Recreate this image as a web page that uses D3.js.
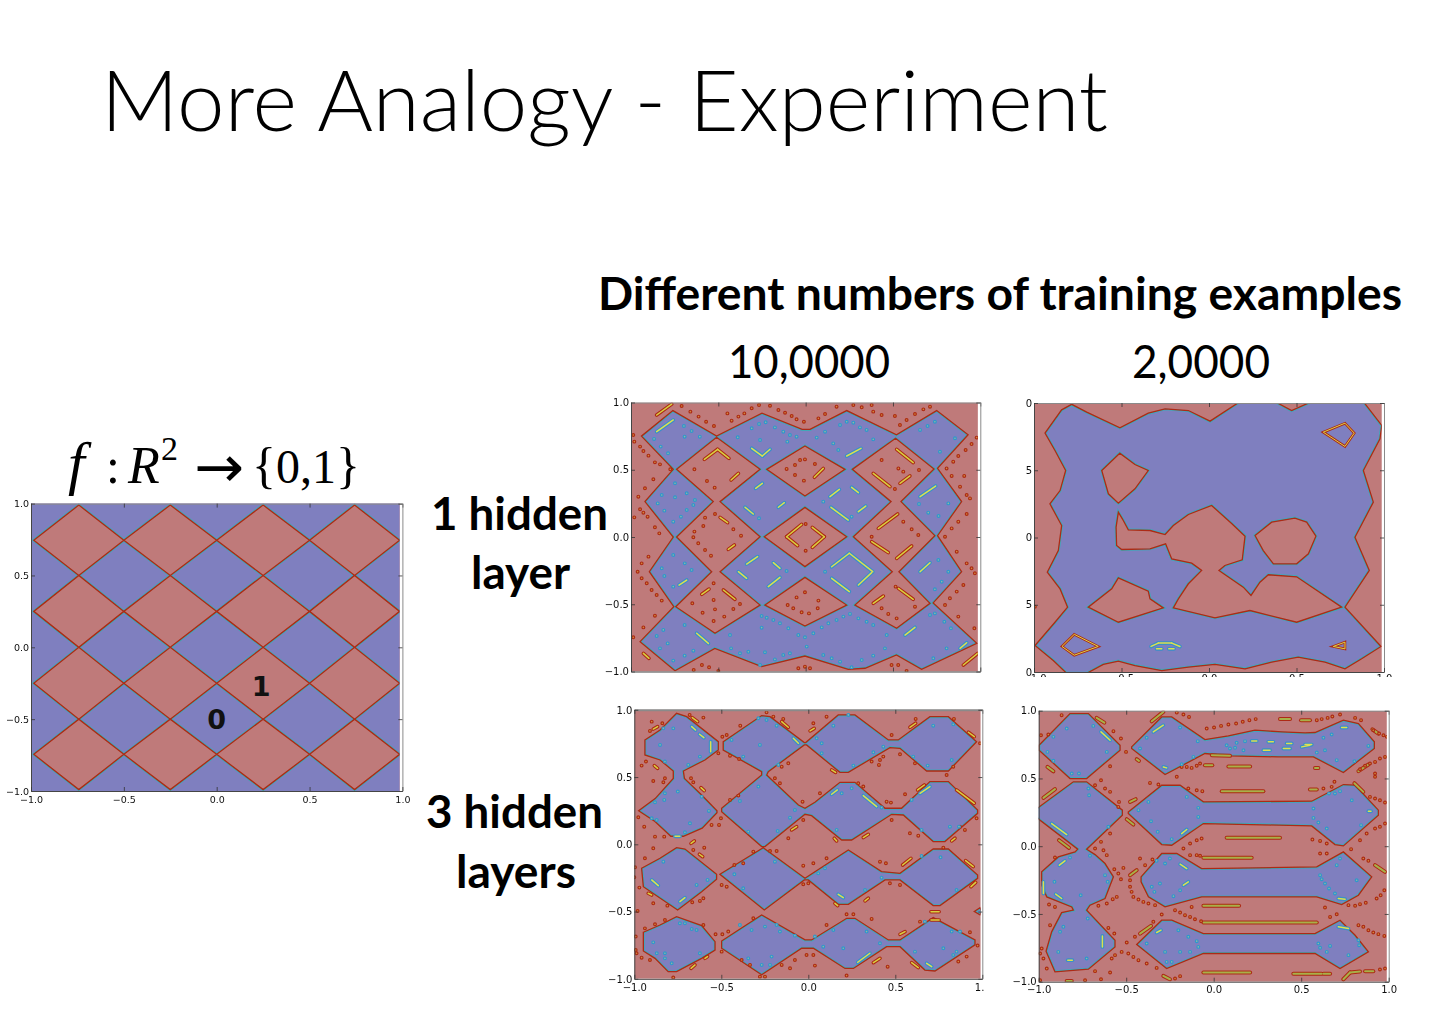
<!DOCTYPE html>
<html><head><meta charset="utf-8">
<script src="https://cdn.jsdelivr.net/npm/d3@7"></script>
<style>html,body{margin:0;background:#fff}svg{display:block}</style>
</head><body><svg id="c" width="1435" height="1016"></svg>
<script>
const tickValues=[-1,-0.5,0,0.5,1];
const panelCYLabels=["0","5","0","5","0"];
const gridXEdges=[-0.985,-0.5,0,0.5,0.985];
const gridYEdges=[0.99,0.5,0,-0.5,-0.99];
const frame=[[-1.03,-1.03],[-1.03,1.03],[1.03,1.03],[1.03,-1.03]];

const panelBBlue=[
[[-.94,.75],[-.76,.94],[-.51,.75],[-.25,.92],[-.02,.80],[.025,.80],[.235,.94],[.52,.76],[.75,.94],[.93,.76],[.755,.51],[.893,.263],[.755,.01],[.893,-.258],[.73,-.49],[.98,-.79],[.664,-.984],[.52,-.877],[.34,-.976],[.244,-.984],[-.004,-.885],[-.252,-.964],[-.52,-.828],[-.748,-.994],[-.948,-.778],[-.755,-.518],[-.895,-.258],[-.758,0],[-.92,.263],[-.758,.503]],
[[-.739,.503],[-.51,.741],[-.261,.503],[-.49,.263],[-.261,.002],[-.49,-.258],[-.261,-.506],[-.519,-.716],[-.744,-.518],[-.538,-.258],[-.739,0],[-.529,.263]],
[[-.223,.503],[-.004,.677],[.225,.503],[-.004,.305]],
[[-.237,.002],[-.004,.22],[.235,.002],[-.004,-.22]],
[[-.233,-.506],[-.004,-.3],[.235,-.506],[-.004,-.662]],
[[.267,.503],[.515,.734],[.735,.505],[.546,.263],[.74,.01],[.534,-.258],[.712,-.493],[.521,-.679],[.282,-.506],[.496,-.258],[.273,.002],[.489,.263]]
];
const panelBSegsRed=[[-.853,.907,-.767,.988],[-.58,.577,-.504,.652],[-.504,.652,-.439,.585],[-.427,.424,-.385,.473],[.05,.444,.101,.51],[.521,.652,.616,.553],[.387,.473,.483,.374],[.54,.399,.597,.454],[.416,.064,.527,.171],[-.109,.002,-.046,-.064],[-.109,.002,-.023,.094],[.038,.072,.107,.002],[.107,.002,.038,-.077],[.378,-.035,.473,-.116],[.521,-.159,.607,-.067],[-.595,-.426,-.553,-.387],[-.471,-.394,-.405,-.463],[.531,-.382,.616,-.463],[.387,-.493,.445,-.439],[.903,-.952,.985,-.865],[-.443,-.092,-.408,-.059],[-.49,.146,-.447,.107],[-.929,-.865,-.897,-.902]];
const panelBSegsBlue=[[-.853,.783,-.758,.87],[-.309,.659,-.248,.602],[-.248,.602,-.204,.652],[.235,.602,.317,.659],[-.286,.362,-.248,.399],[-.156,.221,-.122,.255],[-.347,.221,-.3,.171],[.139,.3,.193,.354],[.263,.369,.302,.33],[.145,.221,.244,.126],[.302,.188,.344,.23],[.655,.3,.744,.379],[-.338,-.201,-.275,-.146],[-.185,-.191,-.147,-.233],[-.385,-.258,-.338,-.307],[-.214,-.369,-.147,-.3],[.149,-.221,.25,-.121],[.25,-.121,.384,-.258],[.149,-.307,.25,-.406],[.302,-.357,.378,-.265],[.655,-.258,.712,-.191],[-.725,-.357,-.681,-.32],[-.624,-.716,-.557,-.791],[.569,-.729,.626,-.672],[.884,-.828,.922,-.786]];
const panelBDotsRed=[[-.71,.974],[-.66,.932],[-.613,.895],[-.57,.857],[-.525,.825],[-.448,.919],[-.424,.865],[-.385,.895],[-.351,.919],[-.309,.957],[-.267,.981],[-.204,.976],[-.156,.944],[-.118,.924],[-.08,.9],[-.052,.875],[-.01,.857],[.073,.882],[.111,.914],[.177,.969],[.273,.981],[.321,.964],[.378,.981],[.387,.932],[.435,.907],[.511,.9],[.54,.833],[.578,.87],[.626,.914],[.674,.949],[.712,.969],
[-.987,.758],[-.981,.709],[-.948,.672],[-.929,.639],[-.9,.605],[-.863,.555],[-.834,.54],[-.775,.503],[-.872,.429],[-.92,.362],[-.958,.3],[-.948,.206],[-.981,.146],[-.929,.181],[-.905,.151],[-.863,.072],[-.838,.027],[-.9,-.146],[-.939,-.196],[-.962,-.258],[-.939,-.307],[-.91,-.344],[-.882,-.394],[-.853,-.431],[-.824,-.473],[-.863,-.585],[-.929,-.672],[-.987,-.746],
[.979,.739],[.95,.691],[.916,.647],[.874,.602],[.845,.56],[.807,.51],[.836,.454],[.908,.454],[.884,.374],[.922,.312],[.941,.287],[.922,.171],[.874,.114],[.836,.064],[.798,.002],[.865,-.109],[.922,-.196],[.95,-.233],[.969,-.27],[.903,-.357],[.865,-.406],[.826,-.456],[.798,-.506],[.874,-.592],[.966,-.679],
[-.637,.503],[-.565,.416],[-.521,.367],[-.519,.171],[-.576,.144],[-.586,.082],[-.637,.04],[-.643,-.002],[-.615,-.047],[-.576,-.097],[-.542,-.139],[-.414,.057],[-.37,.01],[-.527,-.344],[-.527,-.468],[-.649,-.493],[-.59,-.563],[-.519,-.538],[-.527,-.625],[-.466,-.592],[-.414,-.535],[-.376,-.498],
[-.109,.506],[-.061,.535],[-.032,.572],[-.004,.577],[.053,.543],[-.061,.461],[-.01,.419],[0,.097],[0,-.102],[-.052,-.449],[-.004,-.411],[.073,-.473],[-.103,-.506],[-.071,-.53],[-.023,-.56],[.019,-.568],[.069,-.53],
[.435,.572],[.531,.51],[.559,.486],[.649,.498],[.511,.357],[.559,.114],[.607,.057],[.645,.015],[.378,.002],[.515,-.369],[.473,-.572],[.435,-.53],[.521,-.605],[.626,-.518],
[-.641,-.989],[-.594,-.952],[-.553,-.969],[-.5,-.996],[-.042,-.976],[-.004,-.964],[.025,-.976],[.492,-.952],[.53,-.952],[.578,-.996]];
const panelBDotsBlue=[[-.868,.729],[-.83,.672],[-.788,.622],[-.697,.825],[-.653,.788],[-.693,.746],[-.606,.746],[-.389,.741],[-.309,.808],[-.267,.84],[-.229,.853],[-.176,.815],[-.128,.783],[-.09,.758],[-.052,.746],[-.261,.721],[-.105,.709],[.063,.739],[.111,.783],[.158,.696],[.187,.647],[.197,.833],[.235,.857],[.273,.85],[.311,.815],[.349,.796],[.387,.726],[.655,.796],[.698,.825],[.74,.857],[.855,.734],[.769,.634],[-.748,.399],[-.824,.312],[-.748,.295],[-.681,.325],[-.634,.275],[-.643,.238],[-.681,.201],[-.714,.151],[-.758,.114],[-.809,.196],[-.847,.25],[-.267,.139],[.101,.263],[.263,.151],[.649,.245],[.702,.181],[.761,.156],[.817,.25],[-.758,-.134],[-.692,-.196],[-.653,-.245],[-.824,-.233],[-.809,-.29],[-.758,-.369],[-.109,-.253],[.111,-.258],[.76,-.171],[.817,-.258],[.779,-.332],[.74,-.389],[.712,-.58],[.74,-.568],[.794,-.63],[.832,-.679],[-.252,-.587],[-.223,-.6],[-.185,-.617],[-.147,-.642],[-.099,-.679],[-.042,-.729],[-.004,-.746],[.044,-.716],[.092,-.672],[.13,-.642],[.177,-.617],[.216,-.592],[.254,-.572],[.302,-.605],[.349,-.63],[.387,-.654],[.464,-.729],[-.252,-.674],[-.693,-.654],[-.815,-.691],[-.853,-.736],[-.834,-.828],[-.79,-.791],[-.758,-.919],[-.693,-.882],[-.643,-.845],[-.433,-.729],[-.427,-.828],[-.376,-.865],[-.328,-.853],[-.261,-.952],[-.233,-.857],[-.176,-.91],[-.128,-.877],[-.09,-.865],[.006,-.815],[.101,-.877],[.149,-.902],[.197,-.927],[.263,-.969],[.321,-.915],[.387,-.882],[.454,-.828],[.731,-.902],[.807,-.828]];

const panelCBlue=[
[[-.785,.99],[-.842,.949],[-.937,.776],[-.88,.647],[-.819,.498],[-.851,.349],[-.909,.25],[-.842,.089],[-.861,-.097],[-.924,-.258],[-.851,-.382],[-.808,-.518],[-.88,-.63],[-.994,-.803],[-.89,-.914],[-.813,-1.01],[-.699,-1.01],[-.604,-.944],[-.518,-.919],[-.423,-.952],[-.27,-.989],[-.118,-.964],[.034,-.944],[.206,-.976],[.358,-.927],[.51,-.89],[.663,-.927],[.777,-.976],[.872,-.902],[.983,-.81],[.777,-.518],[.916,-.245],[.834,.002],[.939,.263],[.882,.498],[.977,.734],[.987,.833],[.882,1.01],[.587,1.01],[.472,.944],[.377,1.01],[.177,1.01],[.006,.865],[-.118,.944],[-.251,.957],[-.347,.924],[-.509,.815],[-.699,.932]],
[[-.51,.627],[-.613,.498],[-.575,.325],[-.518,.255],[-.423,.362],[-.347,.498],[-.423,.543]],
[[-.518,.188],[-.531,.077],[-.528,-.059],[-.499,-.089],[-.337,-.084],[-.248,-.047],[-.213,-.159],[-.099,-.191],[-.042,-.245],[-.118,-.344],[-.175,-.456],[-.204,-.523],[.034,-.597],[.234,-.543],[.501,-.63],[.758,-.518],[.501,-.292],[.339,-.277],[.291,-.332],[.24,-.431],[.196,-.369],[.057,-.245],[.091,-.208],[.19,-.166],[.206,.01],[.131,.102],[.015,.238],[-.118,.171],[-.204,.089],[-.251,.022],[-.337,.052],[-.461,.057],[-.495,.139]],
[[.263,.015],[.358,.114],[.491,.144],[.558,.114],[.611,.01],[.568,-.121],[.501,-.196],[.368,-.196],[.31,-.097]],
[[-.518,-.3],[-.347,-.399],[-.337,-.456],[-.261,-.523],[-.518,-.63],[-.69,-.518],[-.556,-.382]]
];
const panelCRings=[[[.653,.783],[.777,.85],[.83,.776],[.777,.677]],[[-.77,-.72],[-.633,-.81],[-.77,-.875],[-.84,-.81]],[[.71,-.81],[.777,-.778],[.777,-.828]]];
const panelCSegsBlue=[[-.331,-.81,-.29,-.785],[-.29,-.785,-.213,-.785],[-.213,-.785,-.166,-.81],[-.3,-.828,-.27,-.828],[-.23,-.828,-.2,-.828]];
const panelCDotsRed=[[-.995,-.515]];

const panelDBlue=[
[[-.939,.776],[-.852,.85],[-.757,.974],[-.699,.949],[-.517,.763],[-.517,.701],[-.594,.627],[-.718,.545],[-.712,.49],[-.613,.367],[-.525,.25],[-.525,.235],[-.61,.12],[-.718,.06],[-.79,.06],[-.881,.169],[-.975,.25],[-.88,.34],[-.776,.49],[-.776,.545],[-.852,.627],[-.939,.664]],
[[-.958,-.178],[-.852,-.104],[-.757,-.025],[-.709,-.035],[-.527,-.223],[-.527,-.26],[-.613,-.352],[-.751,-.488],[-.948,-.315]],
[[-.948,-.654],[-.852,-.6],[-.757,-.538],[-.613,-.605],[-.536,-.724],[-.536,-.786],[-.613,-.848],[-.757,-.947],[-.805,-.947],[-.881,-.848],[-.948,-.793]],
[[-.489,.763],[-.268,.957],[-.22,.949],[-.023,.756],[-.015,.756],[.172,.962],[.268,.962],[.46,.776],[.517,.776],[.699,.949],[.805,.949],[.967,.763],[.805,.545],[.68,.545],[.527,.714],[.469,.719],[.23,.535],[.182,.535],[-.01,.739],[-.023,.739],[-.23,.54],[-.239,.515],[-.057,.292],[-.019,.268],[.038,.312],[.182,.461],[.268,.461],[.441,.268],[.536,.268],[.699,.466],[.805,.466],[.973,.255],[.973,.23],[.785,.02],[.718,.02],[.546,.218],[.479,.223],[.249,.032],[.192,.032],[.019,.213],[-.019,.223],[-.249,-.017],[-.268,-.017],[-.498,.243],[-.498,.268],[-.268,.515],[-.268,.54],[-.489,.701]],
[[-.508,-.223],[-.259,-.025],[-.019,-.253],[.23,-.042],[.421,-.203],[.527,-.216],[.718,-.035],[.805,-.035],[.973,-.228],[.973,-.253],[.757,-.456],[.718,-.456],[.527,-.265],[.441,-.265],[.23,-.446],[.172,-.446],[0,-.265],[-.023,-.265],[-.253,-.488]],
[[-.498,-.719],[-.268,-.525],[-.019,-.711],[.019,-.711],[.221,-.55],[.268,-.55],[.46,-.711],[.527,-.711],[.718,-.545],[.958,-.711],[.958,-.748],[.728,-.942],[.67,-.935],[.527,-.761],[.45,-.761],[.259,-.923],[.211,-.923],[.029,-.773],[-.038,-.773],[-.268,-.97],[-.498,-.773]],
[[.954,-.5],[.987,-.471],[.996,-.5],[.987,-.525]]
];
const panelDSegsRed=[[-.891,.857,-.866,.875],[-.667,.942,-.636,.912],[-.153,.912,-.115,.87],[.01,.843,.034,.862],[.584,.87,.617,.9],[.92,.833,.954,.8],[-.885,.585,-.866,.565],[.134,.553,.157,.535],[-.617,.421,-.598,.399],[.628,.404,.667,.441],[.852,.404,.954,.305],[-.096,.107,-.067,.131],[.316,.05,.345,.074],[.149,.045,.163,.025],[.824,.025,.843,.045],[-.674,.007,-.655,.025],[-.626,-.074,-.607,-.092],[.542,-.154,.59,-.104],[.904,-.121,.948,-.166],[.935,-.315,.962,-.283],[-.92,-.364,-.9,-.377],[.153,-.439,.169,-.456],[.326,-.421,.345,-.401],[.705,-.501,.752,-.501],[.705,-.563,.752,-.563],[.527,-.669,.556,-.649],[.374,-.88,.412,-.848],[.594,-.88,.632,-.917],[-.674,-.922,-.651,-.897],[-.594,-.848,-.579,-.835]];
const panelDSegsBlue=[[-.561,.763,-.561,.689],[-.766,.059,-.738,.059],[-.67,.875,-.648,.85],[-.625,.818,-.6,.793],[-.086,.788,-.057,.751],[.134,.372,.167,.404],[.316,.362,.393,.28],[.642,.379,.699,.429],[-.738,-.426,-.709,-.397],[.172,-.372,.201,-.397],[.284,-.877,.354,-.81],[.68,-.885,.709,-.91],[-.9,-.265,-.862,-.307]];
const panelDDotsRed=[[-.9,.912],[-.91,.843],[-.839,.9],[-.682,.962],[-.603,.942],[-.24,.981],[-.201,.949],[-.144,.932],[-.391,.882],[-.469,.813],[-.494,.8],[.029,.9],[.105,.949],[.617,.932],[.837,.932],[.479,.813],[-.45,.659],[-.398,.634],[-.517,.677],[-.933,.615],[-.958,.585],[-.824,.491],[-.833,.461],[-.891,.471],[-.674,.491],[-.661,.461],[-.45,.33],[-.402,.362],[-.115,.602],[-.153,.577],[-.192,.491],[-.163,.454],[-.033,.317],[.067,.379],[.287,.454],[.316,.429],[.364,.615],[.412,.627],[.431,.652],[.406,.59],[.527,.669],[.613,.602],[.833,.577],[.795,.515],[.556,.372],[.45,.317],[.475,.31],[.479,.181],[.584,.082],[.632,.064],[-.029,.181],[-.115,.045],[-.977,.201],[-.943,.131],[-.881,.057],[-.828,.057],[-.891,-.03],[-.598,-.025],[-.661,-.042],[-.556,.144],[-.513,.144],[-.502,.193],[-.939,-.104],[-.996,-.171],[-1,-.245],[-.971,-.322],[-.891,-.439],[-.81,-.456],[-.981,-.496],[-.667,-.431],[-.623,-.421],[-.603,-.401],[-.498,-.302],[-.469,-.315],[-.425,-.154],[-.374,-.141],[-.316,-.055],[-.22,-.05],[-.182,-.05],[-.029,-.159],[.029,-.141],[-.029,-.297],[0,-.29],[.105,-.104],[.412,-.129],[.446,-.141],[.469,-.29],[.527,-.302],[.22,-.52],[.259,-.52],[.105,-.6],[.364,-.555],[.642,-.575],[-.603,-.6],[-.533,-.669],[-.494,-.669],[-.46,-.649],[-.316,-.55],[-.939,-.625],[-.881,-.595],[-.824,-.563],[-.91,-.86],[-.958,-.843],[-.987,-.81],[-.498,-.798],[-.383,-.86],[-.335,-.897],[-.153,-.897],[-.105,-.922],[-.077,-.86],[-.01,-.823],[.029,-.823],[.038,-.902],[.22,-.976],[.456,-.91],[-.278,-.984],[-.249,-.984],[-.776,-.991],[.862,-.872],[.91,-.835],[.929,-.654],[.973,-.753],[.987,.751],[.967,.193],[.9,.107],[.872,.131],[.776,-.025],[-.992,-.686],[-.992,-.786]];
const panelDDotsBlue=[[-.852,.739],[-.833,.862],[-.776,.862],[-.824,.615],[-.69,.59],[-.623,.652],[-.75,.392],[-.824,.379],[-.828,.33],[-.881,.312],[-.613,.354],[-.571,.248],[-.9,.193],[-.871,.181],[-.68,.156],[-.709,.089],[-.833,-.129],[-.579,-.265],[-.642,-.302],[-.425,-.223],[-.374,-.327],[-.287,.429],[-.393,.322],[-.345,.094],[-.176,.099],[-.077,.255],[-.105,.198],[-.287,.937],[-.24,.924],[-.182,.882],[-.441,.776],[-.278,.739],[-.374,.652],[-.172,.59],[.048,.788],[.077,.751],[.077,.677],[.144,.882],[.23,.962],[.259,.585],[.431,.726],[.374,.684],[.718,.882],[.833,.892],[.603,.652],[.686,.585],[.824,.627],[.249,.416],[.192,.379],[.163,.107],[.421,.273],[.594,.33],[.651,.107],[.814,.131],[.866,.131],[-.192,-.129],[.096,-.178],[.057,-.216],[.326,-.34],[.421,-.248],[.651,-.087],[.76,-.097],[.852,-.34],[-.891,-.729],[-.871,-.81],[-.824,-.81],[-.824,-.848],[-.785,-.885],[-.623,-.81],[-.738,-.587],[-.709,-.587],[-.67,-.63],[-.642,-.637],[-.393,-.6],[-.326,-.637],[-.249,-.612],[-.182,-.6],[-.163,-.649],[-.077,-.679],[-.345,-.848],[-.268,-.897],[-.22,-.897],[-.211,-.835],[.038,-.686],[.086,-.761],[.201,-.773],[.144,-.637],[.335,-.649],[.412,-.736],[.67,-.575],[.824,-.649],[.872,-.649],[.852,-.798],[.776,-.773],[.833,-.823],[.613,-.798]];

const panelEBlue=[
[[-.998,.745],[-.821,.979],[-.716,.979],[-.535,.745],[-.535,.709],[-.726,.499],[-.821,.499],[-.998,.709]],
[[-1.01,.278],[-.802,.475],[-.726,.475],[-.522,.266],[-.522,.229],[-.726,-.022],[-.678,-.062],[-.621,-.128],[-.573,-.226],[-.621,-.386],[-.707,-.435],[-.726,-.472],[-.564,-.694],[-.564,-.743],[-.716,-.908],[-.907,-.927],[-.958,-.775],[-.926,-.632],[-.869,-.49],[-.802,-.472],[-.811,-.448],[-.954,-.374],[-.983,-.288],[-.983,-.189],[-.888,-.079],[-.792,-.042],[-.777,-.022],[-1.01,.209]],
[[-.469,.733],[-.297,.954],[-.24,.954],[-.05,.787],[.084,.814],[.236,.856],[.389,.844],[.522,.836],[.579,.839],[.741,.93],[.827,.905],[.918,.77],[.918,.721],[.741,.544],[.57,.659],[.37,.659],[.093,.667],[-.05,.684],[-.278,.529],[-.469,.721]],
[[-.488,.253],[-.297,.45],[-.192,.45],[-.059,.327],[.56,.332],[.741,.455],[.808,.45],[.941,.266],[.941,.229],[.741,.002],[.693,.012],[.56,.15],[-.059,.167],[-.24,.007],[-.297,.012],[-.488,.241]],
[[-.415,-.226],[-.297,-.054],[-.211,-.054],[-.069,-.165],[.589,-.153],[.741,-.042],[.903,-.226],[.827,-.362],[.731,-.431],[.589,-.374],[-.069,-.374],[-.278,-.448],[-.373,-.374],[-.415,-.263]],
[[-.44,-.726],[-.297,-.546],[-.24,-.546],[-.059,-.645],[.579,-.645],[.722,-.546],[.808,-.657],[.884,-.78],[.722,-.903],[.579,-.792],[-.059,-.792],[-.269,-.903]]
];
const panelESegsRed=[[-.669,.947,-.625,.912],[-.354,.922,-.288,.991],[.379,.938,.436,.938],[.499,.93,.55,.93],[-.05,.598,-.008,.598],[.084,.588,.208,.588],[-.011,.672,.093,.667],[.046,.406,.284,.406],[.55,.418,.589,.418],[.074,.062,.379,.062],[-.059,-.086,.217,-.086],[-.059,-.44,.145,-.44],[-.059,-.563,.589,-.563],[-.059,-.932,.208,-.932],[.455,-.942,.617,-.942],[.627,-.942,.665,-.942],[.741,-.982,.779,-.932],[.779,-.932,.836,-.925],[.865,-.923,.912,-.923],[-.973,.357,-.907,.421],[-.884,.044,-.827,-.012],[-.95,.585,-.916,.553],[-.478,.327,-.446,.347],[-.497,.199,-.459,.16],[-.478,-.214,-.44,-.177],[-.421,-.645,-.358,-.588],[.804,.465,.855,.401],[.907,.863,.941,.831],[.827,.554,.884,.603],[.922,-.14,.979,-.189],[-.288,-.957,-.25,-.982],[-.84,-.995,-.811,-.995],[.579,.578,.598,.578],[-.44,.642,-.427,.63]];
const panelESegsBlue=[[-.644,.844,-.592,.782],[-.345,.844,-.288,.893],[-.288,.585,-.269,.578],[-.926,.167,-.84,.086],[-.882,-.14,-.85,-.108],[-.973,-.263,-.973,-.349],[-.903,-.354,-.869,-.386],[-.636,-.662,-.636,-.743],[-.834,-.841,-.808,-.841],[-.183,.093,-.154,.123],[-.192,-.133,-.154,-.165],[-.173,-.288,-.145,-.263],[-.326,-.637,-.301,-.62],[.712,-.595,.77,-.608],[.712,-.386,.751,-.391],[.731,.876,.76,.876],[.884,.258,.899,.258],[.284,.708,.322,.708],[.398,.721,.436,.721],[.503,.733,.55,.745],[.522,.75,.56,.75],[.417,.758,.446,.758],[.312,.77,.341,.77],[.217,.777,.246,.777]];
const panelEDotsRed=[[-.869,.967],[-.945,.824],[-.987,.819],[-.573,.849],[-.53,.795],[-.592,.59],[-.501,.696],[-.211,.986],[-.173,.972],[-.141,.954],[-.04,.868],[.002,.876],[.042,.888],[.084,.898],[.128,.905],[.166,.918],[.204,.93],[.24,.938],[.589,.93],[.617,.938],[.651,.947],[.678,.957],[.722,.972],[.808,.947],[.842,.93],[.912,.856],[.945,.831],[.97,.819],[.989,.807],[.979,.659],[.95,.647],[.922,.622],[.893,.61],[.865,.593],[.836,.568],[-.211,.512],[-.154,.585],[-.126,.578],[-.097,.593],[-.078,.61],[-.183,.585],[-.678,.45],[-.644,.487],[-.621,.426],[-.592,.401],[-.541,.327],[-.545,.29],[-.364,.467],[-.316,.455],[-.145,.426],[-.097,.413],[-.065,.406],[.627,.426],[.674,.438],[.69,.475],[.893,.364],[.922,.352],[.95,.339],[.979,.322],[.922,.13],[.95,.143],[.979,.167],[.874,.093],[.836,.044],[.785,-.022],[-.592,.093],[-.644,.032],[-.678,-.017],[-.63,-.03],[-.611,-.066],[-.907,-.084],[-.173,-.017],[-.135,.02],[-.097,.044],[-.069,.057],[-.135,-.066],[-.097,-.066],[-.078,-.071],[.564,.049],[.608,.039],[.646,.02],[.608,-.054],[.646,-.054],[-.421,-.091],[-.35,-.098],[-.392,-.14],[-.568,-.17],[-.516,-.16],[-.53,-.244],[-.545,-.202],[-.478,-.251],[-.478,-.3],[-.469,-.337],[-.459,-.374],[-.43,-.394],[-.402,-.411],[-.373,-.423],[-.335,-.435],[-.554,-.374],[-.577,-.391],[-.611,-.423],[-.659,-.44],[-.126,-.448],[-.192,-.49],[-.164,-.509],[-.221,-.472],[-.135,-.522],[-.107,-.539],[-.072,-.554],[-.297,-.504],[-.345,-.558],[-.941,-.43],[-.907,-.448],[-.935,-.583],[-.983,-.755],[-.992,-.792],[-.973,-.829],[-.954,-.903],[-.992,-.989],[-.602,-.603],[-.568,-.645],[-.526,-.78],[-.488,-.792],[-.459,-.817],[-.43,-.841],[-.383,-.866],[-.326,-.898],[-.497,-.711],[-.45,-.669],[-.592,-.932],[-.678,-.922],[-.583,-.829],[-.564,-.804],[-.644,-.982],[-.735,-.989],[-.192,-.959],[-.221,-.977],[.636,-.453],[.77,-.435],[.808,-.44],[.836,-.428],[.869,-.418],[.665,-.522],[.703,-.502],[.827,-.583],[.855,-.595],[.884,-.62],[.912,-.637],[.941,-.649],[.975,-.662],[.931,-.386],[.954,-.362],[.975,-.325],[.855,-.091],[.884,-.108],[.95,-.91],[.979,-.903],[.922,.512],[.922,.536]];
const panelEDotsBlue=[[-.916,.807],[-.95,.696],[-.916,.63],[-.84,.868],[-.811,.536],[-.77,.536],[-.611,.696],[-.688,.888],[-.716,.426],[-.712,.376],[-.602,.143],[-.421,.721],[-.383,.8],[-.192,.876],[-.091,.775],[-.116,.659],[-.183,.605],[.074,.745],[.093,.721],[.122,.726],[.131,.763],[.17,.708],[.179,.775],[.589,.691],[.636,.708],[.627,.8],[.674,.824],[.703,.635],[.804,.627],[.884,.74],[-.43,.266],[-.373,.327],[-.358,.184],[-.32,.106],[-.24,.052],[-.154,.364],[-.088,.283],[-.088,.216],[.57,.278],[.57,.209],[.598,.175],[.646,.13],[.659,.389],[.693,.389],[.722,.406],[.789,.339],[.842,.155],[-.621,-.214],[-.606,-.263],[-.91,-.263],[-.76,-.362],[-.821,-.084],[-.707,-.071],[-.326,-.108],[-.278,-.128],[-.25,-.091],[-.354,-.3],[-.339,-.337],[-.307,-.276],[-.23,-.369],[-.192,-.325],[.608,-.214],[.617,-.244],[.636,-.276],[.659,-.312],[.693,-.349],[.817,-.251],[.722,-.091],[.703,-.14],[-.383,-.718],[-.278,-.78],[-.269,-.854],[-.24,-.854],[-.202,-.62],[-.145,-.669],[-.097,-.701],[-.088,-.743],[-.135,-.78],[-.192,-.78],[.598,-.718],[.608,-.75],[.646,-.78],[.665,-.736],[.77,-.804],[.827,-.694],[.831,-.731],[-.726,-.829],[-.888,-.78],[-.878,-.632],[-.859,-.595],[-.72,-.534]];

const panelALabels=[{t:"0",x:0,y:-.5},{t:"1",x:.24,y:-.27}];

const panelABlue=[frame];
gridXEdges.slice(0,-1).forEach((x0,i)=>{const x1=gridXEdges[i+1];
  gridYEdges.slice(0,-1).forEach((y0,j)=>{const y1=gridYEdges[j+1];
    panelABlue.push([[x0,(y0+y1)/2],[(x0+x1)/2,y0],[x1,(y0+y1)/2],[(x0+x1)/2,y1]]);});});

const RED="#bf7a7a",BLUE="#7f7fbf",EDGE="#ad2a12",CY="#3fa8b8";
const svg=d3.select("#c");
const defs=svg.append("defs");
const soft=defs.append("filter").attr("id","soft").attr("x","-5%").attr("y","-5%").attr("width","110%").attr("height","110%");
soft.append("feGaussianBlur").attr("stdDeviation",0.35);

function panel(o){
  const x=d3.scaleLinear().domain([-1,1]).range(o.xr);
  const y=d3.scaleLinear().domain([-1,1]).range(o.yr);
  const line=d3.line().x(d=>x(d[0])).y(d=>y(d[1])).curve(d3.curveLinearClosed);
  const d=o.blue.map(p=>line(p)).join("");
  const g=svg.append("g").attr("filter","url(#soft)");
  const cp=defs.append("clipPath").attr("id",o.id+"plot");
  cp.append("rect").attr("x",x(-1)).attr("y",y(1)).attr("width",x(o.fillMax)-x(-1)).attr("height",y(-1)-y(1));
  const cb=defs.append("clipPath").attr("id",o.id+"blue");
  cb.append("path").attr("d",d).attr("clip-rule","evenodd");
  const p=g.append("g").attr("clip-path",`url(#${o.id}plot)`);
  p.append("rect").attr("x",x(-1)).attr("y",y(1)).attr("width",x(1)-x(-1)).attr("height",y(-1)-y(1)).attr("fill",RED);
  p.append("path").attr("d",d).attr("fill",BLUE).attr("fill-rule","evenodd");
  p.append("g").attr("clip-path",`url(#${o.id}blue)`).append("path").attr("d",d).attr("fill","none").attr("stroke",CY).attr("stroke-width",3);
  p.append("path").attr("d",d).attr("fill","none").attr("stroke",EDGE).attr("stroke-width",1.3);

  const seg=(arr,out,inn,wo,wi)=>{
    [[out,wo],[inn,wi]].forEach(([c,w])=>{
      p.append("g").selectAll("line").data(arr||[]).join("line")
       .attr("x1",s=>x(s[0])).attr("y1",s=>y(s[1])).attr("x2",s=>x(s[2])).attr("y2",s=>y(s[3]))
       .attr("stroke",c).attr("stroke-width",w).attr("stroke-linecap","round");
    });
  };
  seg(o.segsRed,EDGE,o.barCol||"#d8d040",o.barCol?4:3.6,o.barCol?2:1.5);
  seg(o.segsBlue,"#3a8fc8","#dce050",3.8,1.5);
  if(o.rings){
    const open=d3.line().x(d=>x(d[0])).y(d=>y(d[1])).curve(d3.curveLinearClosed);
    [[EDGE,2.6],["#d8d24a",1]].forEach(([c,w])=>p.append("g").selectAll("path").data(o.rings).join("path").attr("d",r=>open(r)).attr("fill","none").attr("stroke",c).attr("stroke-width",w));
  }
  p.append("g").selectAll("circle").data(o.dotsRed||[]).join("circle")
    .attr("cx",s=>x(s[0])).attr("cy",s=>y(s[1])).attr("r",1.4)
    .attr("fill","#cf8a3c").attr("stroke",EDGE).attr("stroke-width",1.15);
  p.append("g").selectAll("circle").data(o.dotsBlue||[]).join("circle")
    .attr("cx",s=>x(s[0])).attr("cy",s=>y(s[1])).attr("r",1.4)
    .attr("fill","#94b4a0").attr("stroke","#2f97cc").attr("stroke-width",1.15);

  const fmt=d3.format(".1f");
  const ag=g.append("g");
  if(o.labelClip){
    const lc=defs.append("clipPath").attr("id",o.id+"lab");
    lc.append("rect").attr("x",0).attr("y",0).attr("width",o.labelClip[0]).attr("height",o.labelClip[1]);
    ag.attr("clip-path",`url(#${o.id}lab)`);
  }
  const style=(s,col,w)=>{s.selectAll("path.domain").attr("stroke",col).attr("stroke-width",w||1);s.selectAll("line").attr("stroke","#333").attr("stroke-width",.8);
    s.selectAll("text").attr("fill","#111").attr("font-family","'DejaVu Sans'").attr("font-size",o.fs||10);};
  ag.append("g").attr("transform",`translate(0,${y(1)})`).call(d3.axisTop(x).tickValues(tickValues).tickSize(-4).tickSizeOuter(0).tickFormat("")).call(style,"#8a8a8a",o.topW);
  ag.append("g").attr("transform",`translate(${x(1)},0)`).call(d3.axisRight(y).tickValues(tickValues).tickSize(-4).tickSizeOuter(0).tickFormat("")).call(style,"#8a8a8a");
  ag.append("g").attr("transform",`translate(${x(-1)},0)`).call(d3.axisLeft(y).tickValues(tickValues).tickSize(-4).tickSizeOuter(0).tickPadding(2).tickFormat(o.yLabels?((v,i)=>o.yLabels[i]):fmt)).call(style,"#444");
  ag.append("g").attr("transform",`translate(0,${y(-1)})`).call(d3.axisBottom(x).tickValues(tickValues).tickSize(-4).tickSizeOuter(0).tickPadding(o.xPad===undefined?3:o.xPad).tickFormat(o.noX?"":fmt)).call(style,"#444");
  return {x,y};
}

const A=panel({id:"a",xr:[31,402.4],yr:[791,503.6],fillMax:.985,blue:panelABlue,fs:9.5,xPad:5});
panel({id:"b",xr:[631,980.3],yr:[671.5,402.5],fillMax:.986,blue:panelBBlue,segsRed:panelBSegsRed,segsBlue:panelBSegsBlue,dotsRed:panelBDotsRed,dotsBlue:panelBDotsBlue,noX:true});
panel({id:"c",xr:[1034,1384],yr:[672,403],fillMax:.987,blue:panelCBlue,segsBlue:panelCSegsBlue,rings:panelCRings,dotsRed:panelCDotsRed,yLabels:panelCYLabels,labelClip:[1435,677]});
panel({id:"d",xr:[634.3,982.3],yr:[978.8,709.8],fillMax:.99,blue:panelDBlue,segsRed:panelDSegsRed,segsBlue:panelDSegsBlue,dotsRed:panelDDotsRed,dotsBlue:panelDDotsBlue,labelClip:[984,1016],topW:2,xPad:5});
panel({id:"e",xr:[1038.7,1388.7],yr:[981.7,710.7],fillMax:.989,blue:panelEBlue,segsRed:panelESegsRed,segsBlue:panelESegsBlue,dotsRed:panelEDotsRed,dotsBlue:panelEDotsBlue,barCol:"#a8b048",xPad:4});

svg.append("g").selectAll("text").data(panelALabels).join("text")
  .attr("x",d=>A.x(d.x)).attr("y",d=>A.y(d.y)+10).attr("text-anchor","middle")
  .attr("font-family","'DejaVu Sans'").attr("font-weight",700).attr("font-size",27).attr("fill","#111").text(d=>d.t);

const txt=(s,x,y,size,w,len,fam,extra)=>{const t=svg.append("text").attr("x",x).attr("y",y).attr("font-size",size).attr("font-weight",w||400).attr("font-family",fam||"Lato").attr("fill","#000").text(s);
  if(len)t.attr("textLength",len).attr("lengthAdjust","spacingAndGlyphs");if(extra)t.attr("font-style",extra);return t;};
txt("More Analogy - Experiment",101,131,84,300,1007);
txt("Different numbers of training examples",598,310,46,700,804);
txt("10,0000",728,378,46,400,162);
txt("2,0000",1132,378,46,400,138);
txt("1 hidden",431,530,46,700,177);
txt("layer",471,589,46,700,99);
txt("3 hidden",426,828,46,700,177);
txt("layers",456,888,46,700,120);
const S="'Liberation Serif'";
txt("f",68,483,60,400,null,S,"italic");
txt(":",106,483,50,400,null,S);
txt("R",128,483,52,400,null,S,"italic");
txt("2",161,460,34,400,null,S);
txt("→",194,487,58,400,50,"'DejaVu Sans'");
txt("{",252,482,50,400,null,S);
txt("0,1",276,483,48,400,null,S);
txt("}",336,482,50,400,null,S);
</script></body></html>
